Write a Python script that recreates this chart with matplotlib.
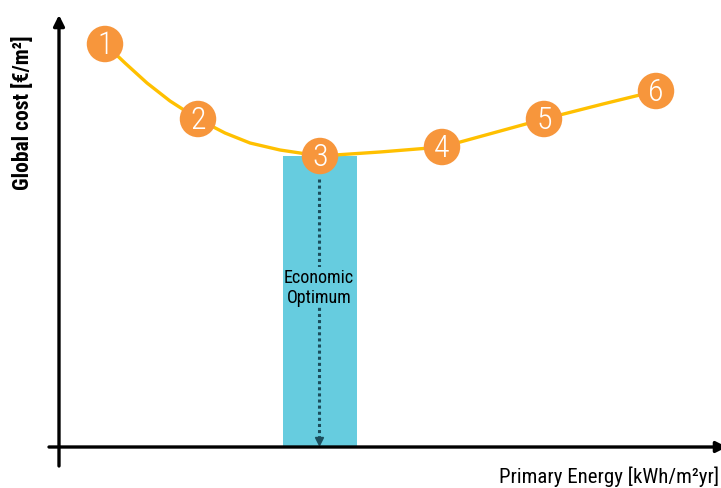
import matplotlib.pyplot as plt

plt.rcParams['font.family'] = ['Roboto Condensed', 'Barlow Semi Condensed', 'DejaVu Sans']

# ── data (arbitrary units, origin at axes crossing) ─────────
pt_labels = ['1', '2', '3', '4', '5', '6']
pt_energy = [46, 139, 261, 383, 485, 597]
pt_cost   = [403, 328, 291, 300, 328, 356]

# curve traced through the package points
curve_energy = [46, 66, 88, 111, 139, 166, 191, 221, 261, 321, 383, 434, 485, 544, 597]
curve_cost   = [403, 384, 364, 346, 328, 314, 304, 297, 291, 295, 300, 314, 328, 343, 356]

opt_idx = 2
opt_label = 'Economic\nOptimum'

ORANGE = '#F7963C'
GOLD   = '#FFC000'
BLUE   = '#66CCDF'
TEAL   = '#1B4D5C'

fig = plt.figure(figsize=(7.21, 4.89), dpi=100)
ax = fig.add_axes([0, 0, 1, 1])
ax.set_xlim(-59, 662)
ax.set_ylim(-41, 448)
ax.axis('off')

# optimum band
ax.bar(pt_energy[opt_idx], pt_cost[opt_idx], width=74, color=BLUE, zorder=1)

# dotted arrow down to the x axis
x_opt = pt_energy[opt_idx] - 1
ax.plot([x_opt, x_opt], [pt_cost[opt_idx] - 23, 8], color=TEAL, lw=2.2,
        linestyle=(0, (1, 1)), zorder=2)
ax.plot(x_opt, 6, marker='v', color=TEAL, markersize=6, zorder=2)
ax.text(x_opt, 160, opt_label, ha='center', va='center', fontsize=13,
        color='black', linespacing=1.2, zorder=3,
        bbox=dict(facecolor=BLUE, edgecolor='none', pad=0.5))

# cost curve
ax.plot(curve_energy, curve_cost, color=GOLD, lw=2.4, zorder=4,
        solid_capstyle='round')

# numbered points
ax.scatter(pt_energy, pt_cost, s=690, color=ORANGE, edgecolors='none', zorder=5)
for x, y, lab in zip(pt_energy, pt_cost, pt_labels):
    ax.text(x, y - 1, lab, ha='center', va='center', color='white',
            fontsize=23, fontweight='light', zorder=6)

# axes arrows
ax.annotate('', xy=(0, 432), xytext=(0, -19), annotation_clip=False,
            arrowprops=dict(arrowstyle='-|>', color='black', lw=2.4,
                            mutation_scale=16, shrinkA=0, shrinkB=0))
ax.annotate('', xy=(668, 0), xytext=(-10, 0), annotation_clip=False,
            arrowprops=dict(arrowstyle='-|>', color='black', lw=2.4,
                            mutation_scale=16, shrinkA=0, shrinkB=0))

ax.text(-36, 335, 'Global cost [€/m²]', rotation=90, ha='center',
        va='center', fontsize=15.5, fontweight='bold')
ax.text(660, -29, 'Primary Energy [kWh/m²yr]', ha='right', va='center',
        fontsize=15)

fig.savefig('out.png', dpi=100)
